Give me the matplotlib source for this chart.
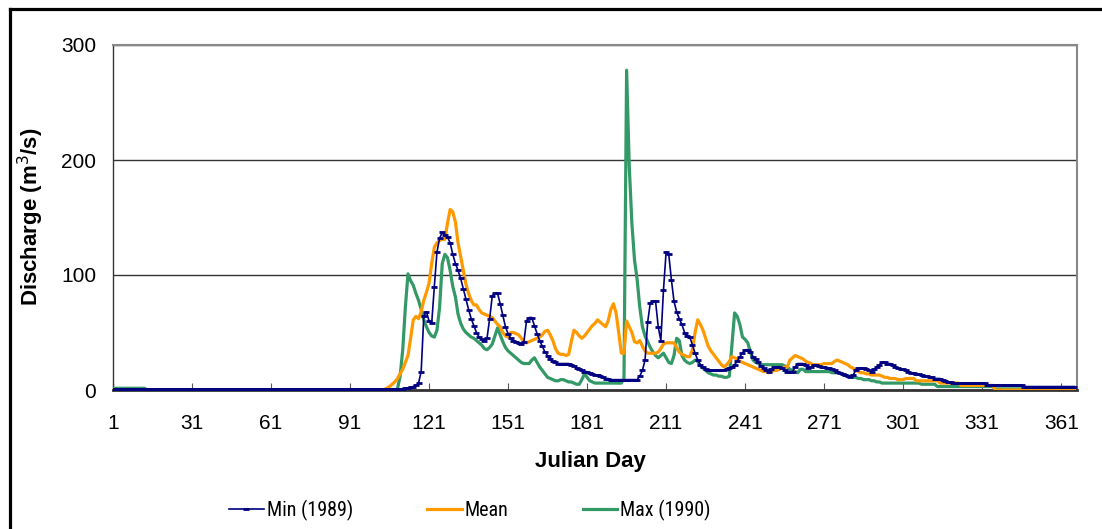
import numpy as np
import matplotlib.pyplot as plt
from matplotlib.lines import Line2D
from matplotlib import font_manager

plt.rcParams['font.family'] = ['Liberation Sans', 'DejaVu Sans']

# Daily discharge (m3/s), Julian day 1..366
days = np.arange(1, 367)

min_1989 = (
    [1.0] * 111
    + [1.5, 2, 2.5, 3, 4, 6, 16, 64, 68, 60]          # 112-121
    + [58, 90, 120, 132, 137, 135, 133, 128, 118, 110]  # 122-131
    + [104, 97, 88, 79, 70, 62, 56, 50, 46, 44]       # 132-141
    + [43, 45, 62, 82, 84, 84, 75, 65, 55, 49]        # 142-151
    + [45, 43, 42, 41, 40, 42, 60, 63, 63, 56]        # 152-161
    + [49, 43, 38, 33, 30, 27, 25, 24, 23, 23]        # 162-171
    + [23, 23, 23, 22, 21, 19, 18, 17, 16, 16]        # 172-181
    + [15, 14, 13, 13, 12, 11, 10, 10, 9, 9]          # 182-191
    + [9, 9, 9, 9, 9, 9, 9, 9, 9, 12]                 # 192-201
    + [17, 26, 59, 76, 77, 77, 55, 43, 87, 120]       # 202-211
    + [118, 96, 77, 68, 62, 57, 50, 47, 46, 39]       # 212-221
    + [32, 26, 22, 20, 18, 17, 17, 17, 17, 17]        # 222-231
    + [17, 17, 18, 19, 20, 22, 25, 29, 32, 35]        # 232-241
    + [35, 33, 29, 27, 24, 21, 19, 17, 16, 18]        # 242-251
    + [20, 20, 20, 19, 17, 16, 16, 16, 20, 23]        # 252-261
    + [23, 23, 22, 19, 20, 22, 22, 21, 20, 20]        # 262-271
    + [19, 19, 18, 17, 16, 15, 14, 13, 12, 11]        # 272-281
    + [13, 17, 19, 19, 19, 18, 17, 16, 18, 20]        # 282-291
    + [22, 24, 24, 23, 23, 22, 20, 19, 18, 18]        # 292-301
    + [17, 16, 15, 15, 14, 14, 13, 12, 12, 11]        # 302-311
    + [11, 10, 10, 10, 9, 8, 7, 7, 6, 6]              # 312-321
    + [6] * 11                                        # 322-332
    + [4.5] * 14                                      # 333-346
    + [3] * 20                                        # 347-366
)

mean_q = (
    [0.0] * 103
    + [0.5, 1.5, 3, 5, 7, 10, 14, 18, 24, 30]         # 104-113
    + [45, 61, 64, 62, 68, 78, 85, 93, 110, 124]      # 114-123
    + [128, 130, 131, 131, 145, 157, 155, 146, 128, 116]  # 124-133
    + [104, 92, 84, 78, 74, 74, 70, 67, 66, 65]       # 134-143
    + [64, 63, 60, 57, 55, 50, 47, 46, 50, 50]        # 144-153
    + [49, 48, 45, 42, 41, 42, 43, 44, 45, 46]        # 154-163
    + [48, 51, 52, 48, 43, 36, 32, 31, 31, 30]        # 164-173
    + [31, 42, 52, 50, 47, 45, 47, 50, 53, 56]        # 174-183
    + [58, 61, 59, 57, 55, 60, 70, 75, 67, 50]        # 184-193
    + [32, 32, 60, 55, 50, 42, 41, 43, 38, 34]        # 194-203
    + [32, 32, 32, 32, 33, 36, 40, 41, 41, 41]        # 204-213
    + [41, 37, 33, 31, 30, 29, 29, 35, 50, 61]        # 214-223
    + [57, 52, 45, 38, 34, 31, 28, 25, 22, 20]        # 224-233
    + [22, 25, 29, 28, 27, 25, 24, 23, 22, 21]        # 234-243
    + [20, 19, 18, 17, 16, 16, 15, 16, 17, 17]        # 244-253
    + [18, 19, 20, 20, 26, 28, 30, 29, 28, 27]        # 254-263
    + [25, 24, 23, 22, 22, 22, 22, 23, 23, 23]        # 264-273
    + [23, 25, 26, 25, 24, 23, 22, 20, 19, 17]        # 274-283
    + [16, 15, 15, 14, 14, 13, 13, 13, 13, 12]        # 284-293
    + [11, 11, 10, 10, 10, 9, 9, 9, 10, 10]           # 294-303
    + [10, 10, 8, 8, 8, 8, 8, 8, 8, 8]                # 304-313
    + [8, 6, 6, 6, 6, 6, 6, 6, 6]                     # 314-322
    + [4] * 13                                        # 323-335
    + [0.0] * 31                                      # 336-366
)

max_1990 = (
    [1.5] * 13
    + [0.0] * 91
    + [0, 0, 0, 0, 1, 12, 35, 72, 101, 95]            # 105-114
    + [91, 84, 78, 70, 61, 55, 50, 47, 46, 52]        # 115-124
    + [72, 110, 118, 115, 104, 90, 81, 66, 58, 53]    # 125-134
    + [50, 48, 46, 45, 43, 41, 39, 36, 35, 37]        # 135-144
    + [40, 47, 54, 48, 42, 37, 34, 32, 30, 28]        # 145-154
    + [26, 24, 23, 23, 23, 26, 28, 24, 20, 17]        # 155-164
    + [14, 11, 10, 9, 8, 8, 9, 9, 8, 7]               # 165-174
    + [7, 6, 5, 5, 9, 14, 11, 8, 7, 6]                # 175-184
    + [6, 6, 6, 6, 6, 6, 6, 6, 6, 6]                  # 185-194
    + [10, 278, 195, 145, 113, 96, 72, 55, 47, 42]    # 195-204
    + [37, 33, 30, 28, 30, 32, 28, 24, 23, 30]        # 205-214
    + [45, 43, 30, 26, 24, 23, 24, 26, 25, 21]        # 215-224
    + [19, 17, 15, 14, 13, 13, 12, 12, 11, 11]        # 225-234
    + [12, 40, 67, 64, 57, 46, 44, 41, 33, 26]        # 235-244
    + [24, 23, 22, 22, 22, 22, 22, 22, 22, 22]        # 245-254
    + [22, 21, 20, 18, 17, 16, 15, 18, 18, 16]        # 255-264
    + [16, 16, 16, 16, 16, 16, 16, 16, 16, 15]        # 265-274
    + [15, 15, 15, 14, 13, 12, 12, 11, 11, 10]        # 275-284
    + [10, 9, 9, 9, 8, 8, 7, 7, 6, 6]                 # 285-294
    + [6] * 13                                        # 295-307
    + [5] * 6                                         # 308-313
    + [3] * 22                                        # 314-335
    + [1] * 31                                        # 336-366
)

x_ticks = np.arange(1, 362, 30)
y_ticks = [0, 100, 200, 300]


def narrow_family():
    # the legend text in the original is a condensed sans; use one if present
    names = {f.name for f in font_manager.fontManager.ttflist}
    for cand in ['Liberation Sans Narrow', 'Arial Narrow', 'Roboto Condensed',
                 'Open Sans Condensed', 'DejaVu Sans Condensed']:
        if cand in names:
            return {'family': cand, 'size': 14.5}
    for f in font_manager.fontManager.ttflist:
        if f.name == 'DejaVu Sans' and 'ondensed' in str(f.stretch) + f.fname:
            return {'family': 'DejaVu Sans', 'stretch': 'condensed', 'size': 13}
    return {'family': 'Liberation Sans', 'size': 13}


fig = plt.figure(figsize=(11.02, 5.29), dpi=100)
ax = fig.add_axes([113 / 1102, 1 - 390 / 529, 964 / 1102, 345 / 529])

ax.plot(days, max_1990, color='#339966', lw=2.3, zorder=3, label='Max (1990)')
ax.plot(days, mean_q, color='#FF9900', lw=2.3, zorder=4, label='Mean')
ax.plot(days, min_1989, color='#000080', lw=1.2, marker='_', ms=4.5, mew=2,
        zorder=5, label='Min (1989)')

ax.set_xlim(1, 367)
ax.set_ylim(0, 300)
ax.set_xticks(x_ticks)
ax.set_yticks(y_ticks)
ax.tick_params(axis='x', direction='in', length=5, color='#555555',
               labelsize=15, pad=17)
ax.tick_params(axis='y', length=0, labelsize=15, pad=12)
ax.grid(axis='y', color='#333333', lw=1)
ax.set_axisbelow(True)

for side in ['top', 'right']:
    ax.spines[side].set_color('#888888')
    ax.spines[side].set_linewidth(1.5)
ax.spines['left'].set_color('#333333')
ax.spines['left'].set_linewidth(1)
ax.spines['bottom'].set_color('#333333')
ax.spines['bottom'].set_linewidth(2)

fig.text(31 / 1102, 1 - 217 / 529, 'Discharge (m$^3$/s)', rotation=90,
         ha='center', va='center', fontsize=16, fontweight='bold')
fig.text(590 / 1102, 1 - 461 / 529, 'Julian Day', ha='center', va='center',
         fontsize=16, fontweight='bold')

handles, labels = ax.get_legend_handles_labels()
order = [2, 1, 0]
fig.legend([handles[i] for i in order], [labels[i] for i in order],
           loc='center', bbox_to_anchor=(470 / 1102, 1 - 510 / 529), ncol=3,
           frameon=False, handlelength=1.7, columnspacing=3.7, handletextpad=0.15,
           prop=narrow_family())

# outer chart frame (only left and top edges are in view)
fig.add_artist(Line2D([10 / 1102, 10 / 1102], [0, 1 - 8.5 / 529],
                      transform=fig.transFigure, color='black', lw=2.3))
fig.add_artist(Line2D([10 / 1102, 1], [1 - 8.5 / 529, 1 - 8.5 / 529],
                      transform=fig.transFigure, color='black', lw=2.3))

fig.savefig('out.png', dpi=100)
